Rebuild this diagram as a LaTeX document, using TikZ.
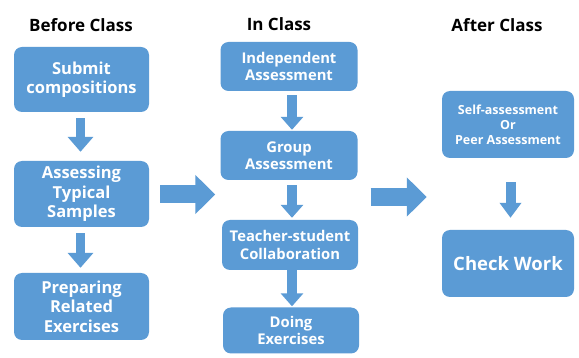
\documentclass[tikz,border=0pt]{standalone}
\usepackage{fontspec}
\setmainfont{Open Sans}
\usetikzlibrary{arrows.meta}
\definecolor{boxblue}{RGB}{91,155,213}
\begin{document}
\begin{tikzpicture}[x=1pt,y=-1pt,
  heading/.style={font=\fontsize{17}{20}\selectfont\bfseries, text=black, inner sep=0pt},
  stage/.style={rounded corners=8pt, fill=boxblue, text=white, align=center,
    inner sep=0pt, font=\fontsize{16.5}{19.5}\selectfont\bfseries},
  stagemid/.style={stage, font=\fontsize{14.8}{17.5}\selectfont\bfseries},
  stagesmall/.style={stage, font=\fontsize{12.5}{15}\selectfont\bfseries},
  stagebig/.style={stage, font=\fontsize{18.5}{21}\selectfont\bfseries},
  downone/.style={draw=boxblue, line width=9pt, -{Triangle[width=25pt,length=15pt]}},
  downtwo/.style={draw=boxblue, line width=10pt, -{Triangle[width=22pt,length=13pt]}},
  downthree/.style={draw=boxblue, line width=10pt, -{Triangle[width=21pt,length=15pt]}},
  across/.style={draw=boxblue, line width=18pt, -{Triangle[width=38pt,length=20pt]}}]
\useasboundingbox (0,0) rectangle (579,358);
\fill[white] (0,0) rectangle (579,358);

% column headings
\node[heading] (hbefore) at (81,25) {Before Class};
\node[heading] (hin) at (279,24) {In Class};
\node[heading] (hafter) at (497,25) {After Class};

% before class
\node[stage, minimum width=135pt, minimum height=65pt] (s1) at (81.5,79.5) {Submit\\compositions};
\node[stage, minimum width=135pt, minimum height=66pt] (s2) at (81.5,194) {Assessing\\Typical\\Samples};
\node[stage, minimum width=135pt, minimum height=67pt] (s3) at (81.5,306.5) {Preparing\\Related\\Exercises};

% in class
\node[stagemid, minimum width=137pt, minimum height=49pt] (ia) at (289,66.5) {Independent\\Assessment};
\node[stagemid, minimum width=137pt, minimum height=49pt] (ga) at (289,155.5) {Group\\Assessment};
\node[stagemid, minimum width=136pt, minimum height=50pt] (tc) at (290,245) {Teacher-student\\Collaboration};
\node[stagemid, minimum width=136pt, minimum height=46pt] (de) at (291,330.5) {Doing\\Exercises};

% after class
\node[stagesmall, minimum width=132pt, minimum height=67pt] (sp) at (508,124.5) {Self-assessment\\Or\\Peer Assessment};
\node[stagebig, minimum width=132pt, minimum height=67pt] (cw) at (508,263.5) {Check Work};

% vertical flow arrows
\draw[downone, shorten <=6pt, shorten >=9pt] ([xshift=-1pt]s1.south) -- ([xshift=-1pt]s2.north);
\draw[downone, shorten <=6pt, shorten >=5pt] ([xshift=-1pt]s2.south) -- ([xshift=-1pt]s3.north);
\draw[downtwo, shorten <=4pt, shorten >=1pt] ([xshift=3pt]ia.south) -- ([xshift=3pt]ga.north);
\draw[downtwo, shorten <=5pt, shorten >=2pt] ([xshift=3pt]ga.south) -- ([xshift=2pt]tc.north);
\draw[downtwo, shorten <=0pt, shorten >=1pt] ([xshift=2pt]tc.south) -- ([xshift=1pt]de.north);
\draw[downthree, shorten <=24pt, shorten >=12pt] ([xshift=2.5pt]sp.south) -- ([xshift=2.5pt]cw.north);

% arrows between the phases
\draw[across, shorten <=11pt, shorten >=5pt] ([yshift=-0.5pt]s2.east) -- ([yshift=-0.5pt]s2.east -| ga.west);
\draw[across, shorten <=13pt, shorten >=15pt] ([yshift=-3pt]s2.east -| ga.east) -- ([yshift=-3pt]s2.east -| sp.west);
\end{tikzpicture}
\end{document}
